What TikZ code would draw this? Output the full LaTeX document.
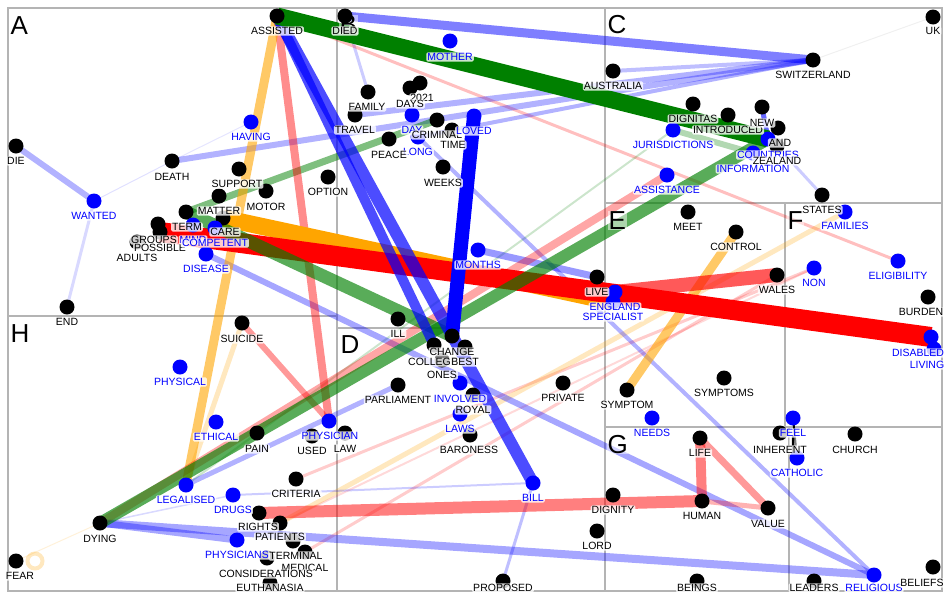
\documentclass[tikz,border=0pt]{standalone}
\usepackage{fontspec}
\setmainfont{Liberation Sans}
\pgfdeclarelayer{grid}
\pgfdeclarelayer{edges}
\pgfdeclarelayer{letters}
\pgfdeclarelayer{labels}
\pgfsetlayers{grid,edges,letters,main,labels}
\definecolor{cg}{RGB}{0,128,0}
\definecolor{cr}{RGB}{255,0,0}
\definecolor{cb}{RGB}{0,0,255}
\definecolor{co}{RGB}{255,165,0}
\definecolor{cgrid}{RGB}{180,180,180}
\tikzset{
 kdot/.style={circle, fill=black, minimum size=15pt, inner sep=0pt},
 bdot/.style={circle, fill=cb, minimum size=15pt, inner sep=0pt},
 lab/.style={font=\fontsize{10.5}{12}\selectfont, fill=white, fill opacity=0.8, text opacity=1, inner sep=1pt, rounded corners=1.5pt},
 klab/.style={lab, text=black},
 blab/.style={lab, text=cb},
 lett/.style={font=\fontsize{26}{28}\selectfont, anchor=base west, inner sep=0.5pt, fill=white, fill opacity=0.5, text opacity=1},
 region/.style={draw=cgrid, line width=2pt},
 eg/.style={draw=cg}, er/.style={draw=cr}, eb/.style={draw=cb}, eo/.style={draw=co}, ek/.style={draw=black},
}
\newcommand{\wn}[7]{\node[#2dot] (#1) at (#3,#4) {};
 \begin{pgfonlayer}{labels}\node[#2lab] (#1-t) at (#5,#6) {#7};\end{pgfonlayer}}
\newcommand{\lnk}[5]{\draw[#1, line width=#2pt, draw opacity=#3] (#4.center) -- (#5.center);}
\begin{document}
\begin{tikzpicture}[x=1pt,y=-1pt]
\useasboundingbox (0,0) rectangle (950,600);
\begin{pgfonlayer}{grid}
\fill[white] (0,0) rectangle (950,600);
\draw[region] (8,8) rectangle (942,591);
\draw[region] (337,8) -- (337,591);
\draw[region] (605,8) -- (605,591);
\draw[region] (8,316) -- (337,316);
\draw[region] (337,328) -- (605,328);
\draw[region] (605,203) -- (942,203);
\draw[region] (605,427) -- (942,427);
\draw[region] (785,203) -- (785,427);
\draw[region] (789,427) -- (789,591);
\end{pgfonlayer}
\begin{pgfonlayer}{letters}
\node[lett] (LA) at (10,34) {A};
\node[lett] (LB) at (339,33) {B};
\node[lett] (LC) at (607,33) {C};
\node[lett] (LD) at (340,353) {D};
\node[lett] (LE) at (608,229) {E};
\node[lett] (LF) at (787,229) {F};
\node[lett] (LG) at (607,453) {G};
\node[lett] (LH) at (10,342) {H};
\node[lett] (LI) at (789,453) {I};
\end{pgfonlayer}
% region A
\wn{DIE}{k}{16}{146}{16}{161}{DIE}
\wn{WANTED}{b}{94}{201}{94}{216}{WANTED}
\wn{DEATH}{k}{172}{161}{172}{177}{DEATH}
\wn{HAVING}{b}{251}{122}{251}{137}{HAVING}
\wn{SUPPORT}{k}{239}{169}{237}{184}{SUPPORT}
\wn{MOTOR}{k}{266}{191}{266}{207}{MOTOR}
\wn{MATTER}{k}{219}{196}{219}{211}{MATTER}
\wn{TERM}{k}{186}{212}{187}{227}{TERM}
\wn{CARE}{k}{223}{218}{225}{232}{CARE}
\wn{ADULTS}{k}{137}{242}{137}{258}{ADULTS}
\wn{GROUPS}{k}{158}{224}{154}{240}{GROUPS}
\wn{POSSIBLE}{k}{160}{232}{160}{248}{POSSIBLE}
\wn{MIND}{b}{193}{225}{193}{240}{MIND}
\wn{COMPETENT}{b}{215}{228}{215}{243}{COMPETENT}
\wn{DISEASE}{b}{206}{254}{206}{269}{DISEASE}
\wn{END}{k}{67}{307}{67}{322}{END}
% region B
\wn{ASSISTED}{k}{277}{16}{277}{31}{ASSISTED}
\wn{DIED}{k}{345}{16}{345}{31}{DIED}
\wn{MOTHER}{b}{450}{41}{450}{57}{MOTHER}
\wn{FAMILY}{k}{368}{92}{367}{107}{FAMILY}
\wn{YEAR}{k}{420}{83}{422}{98}{2021}
\wn{DAYS}{k}{410}{88}{410}{104}{DAYS}
\wn{TRAVEL}{k}{355}{115}{355}{130}{TRAVEL}
\wn{DAY}{b}{412}{115}{412}{130}{DAY}
\wn{CRIMINAL}{k}{437}{120}{437}{135}{CRIMINAL}
\wn{LONG}{b}{418}{137}{418}{152}{LONG}
\wn{TIME}{k}{452}{130}{453}{145}{TIME}
\wn{LOVED}{b}{474}{116}{474}{131}{LOVED}
\wn{PEACE}{k}{389}{139}{389}{155}{PEACE}
\wn{WEEKS}{k}{443}{167}{443}{183}{WEEKS}
\wn{OPTION}{k}{328}{177}{328}{192}{OPTION}
\wn{MONTHS}{b}{478}{250}{478}{265}{MONTHS}
% region C
\wn{AUSTRALIA}{k}{613}{71}{613}{86}{AUSTRALIA}
\wn{SWITZERLAND}{k}{813}{60}{813}{75}{SWITZERLAND}
\wn{UK}{k}{933}{17}{933}{31}{UK}
\wn{DIGNITAS}{k}{693}{104}{693}{119}{DIGNITAS}
\wn{INTRODUCED}{k}{728}{115}{728}{130}{INTRODUCED}
\wn{JURISDICTIONS}{b}{673}{130}{673}{145}{JURISDICTIONS}
\wn{NEW}{k}{762}{107}{762}{123}{NEW}
\wn{AND}{k}{778}{128}{780}{143}{AND}
\wn{COUNTRIES}{b}{768}{139}{768}{155}{COUNTRIES}
\wn{ZEALAND}{k}{777}{146}{777}{161}{ZEALAND}
\wn{INFORMATION}{b}{753}{153}{753}{169}{INFORMATION}
\wn{ASSISTANCE}{b}{667}{175}{667}{190}{ASSISTANCE}
\wn{STATES}{k}{822}{195}{822}{210}{STATES}
% region E
\wn{MEET}{k}{688}{212}{688}{227}{MEET}
\wn{CONTROL}{k}{736}{232}{736}{247}{CONTROL}
\wn{WALES}{k}{777}{275}{777}{290}{WALES}
\wn{LIVE}{k}{597}{277}{597}{292}{LIVE}
\wn{ENGLAND}{b}{615}{292}{615}{307}{ENGLAND}
\wn{SPECIALIST}{b}{613}{302}{613}{317}{SPECIALIST}
\wn{SYMPTOMS}{k}{724}{378}{724}{393}{SYMPTOMS}
\wn{SYMPTOM}{k}{627}{390}{627}{405}{SYMPTOM}
% region F
\wn{FAMILIES}{b}{845}{212}{845}{226}{FAMILIES}
\wn{NON}{b}{814}{268}{814}{283}{NON}
\wn{ELIGIBILITY}{b}{898}{261}{898}{276}{ELIGIBILITY}
\wn{BURDEN}{k}{928}{297}{921}{312}{BURDEN}
\wn{DISABLED}{b}{931}{337}{918}{353}{DISABLED}
\wn{LIVING}{b}{934}{349}{927}{365}{LIVING}
% region D
\wn{ILL}{k}{398}{319}{398}{334}{ILL}
\wn{CHANGE}{k}{452}{336}{452}{352}{CHANGE}
\wn{COLLEGE}{k}{434}{345}{433}{362}{COLLEGE}
\wn{BEST}{k}{465}{347}{465}{362}{BEST}
\wn{ONES}{k}{442}{360}{442}{375}{ONES}
\wn{PARLIAMENT}{k}{398}{385}{398}{400}{PARLIAMENT}
\wn{INVOLVED}{b}{460}{383}{460}{399}{INVOLVED}
\wn{ROYAL}{k}{473}{395}{473}{410}{ROYAL}
\wn{LAWS}{b}{460}{414}{460}{429}{LAWS}
\wn{BARONESS}{k}{470}{435}{469}{450}{BARONESS}
\wn{PRIVATE}{k}{563}{383}{563}{398}{PRIVATE}
\wn{BILL}{b}{533}{483}{533}{498}{BILL}
\wn{LORD}{k}{597}{531}{597}{546}{LORD}
\wn{DIGNITY}{k}{613}{495}{613}{510}{DIGNITY}
\wn{PROPOSED}{k}{503}{581}{503}{588}{PROPOSED}
% region H
\wn{SUICIDE}{k}{242}{323}{242}{339}{SUICIDE}
\wn{PHYSICAL}{b}{180}{367}{180}{382}{PHYSICAL}
\wn{ETHICAL}{b}{216}{422}{216}{437}{ETHICAL}
\wn{PAIN}{k}{257}{433}{257}{449}{PAIN}
\wn{PHYSICIAN}{b}{329}{421}{330}{436}{PHYSICIAN}
\wn{USED}{k}{312}{436}{312}{451}{USED}
\wn{LAW}{k}{345}{433}{345}{449}{LAW}
\wn{CRITERIA}{k}{296}{479}{296}{494}{CRITERIA}
\wn{LEGALISED}{b}{186}{485}{186}{500}{LEGALISED}
\wn{DRUGS}{b}{233}{495}{233}{510}{DRUGS}
\wn{RIGHTS}{k}{259}{513}{258}{527}{RIGHTS}
\wn{PATIENTS}{k}{280}{523}{280}{537}{PATIENTS}
\wn{DYING}{k}{100}{523}{100}{539}{DYING}
\wn{PHYSICIANS}{b}{237}{540}{237}{555}{PHYSICIANS}
\wn{TERMINAL}{k}{293}{541}{296}{556}{TERMINAL}
\wn{MEDICAL}{k}{305}{552}{305}{568}{MEDICAL}
\wn{CONSIDERATIONS}{k}{267}{558}{266}{574}{CONSIDERATIONS}
\wn{EUTHANASIA}{k}{270}{583}{270}{588}{EUTHANASIA}
\wn{FEAR}{k}{16}{561}{20}{576}{FEAR}
% region G
\wn{NEEDS}{b}{652}{418}{652}{433}{NEEDS}
\wn{LIFE}{k}{700}{438}{700}{453}{LIFE}
\wn{HUMAN}{k}{702}{501}{702}{516}{HUMAN}
\wn{VALUE}{k}{768}{508}{768}{524}{VALUE}
\wn{BEINGS}{k}{697}{581}{697}{588}{BEINGS}
% region I
\wn{INHERENT}{k}{780}{433}{780}{450}{INHERENT}
\wn{FEEL}{b}{793}{418}{793}{433}{FEEL}
\wn{CATHOLIC}{b}{797}{458}{797}{473}{CATHOLIC}
\wn{CHURCH}{k}{855}{434}{855}{450}{CHURCH}
\wn{LEADERS}{k}{814}{581}{814}{588}{LEADERS}
\wn{RELIGIOUS}{b}{874}{575}{874}{588}{RELIGIOUS}
\wn{BELIEFS}{k}{933}{567}{922}{583}{BELIEFS}
\begin{pgfonlayer}{edges}
\lnk{eb}{1}{.12}{WANTED}{DEATH}
\lnk{eb}{3}{.15}{WANTED}{END}
\lnk{eb}{6}{.3}{DIE}{WANTED}
\lnk{eb}{1}{.1}{DEATH}{HAVING}
\lnk{eo}{1}{.15}{FEAR}{DYING}
\draw[eo, line width=4pt, draw opacity=.25] ([xshift=19pt]FEAR.center) circle (7.5);
\lnk{ek}{1}{.06}{SWITZERLAND}{UK}
\lnk{eb}{3}{.2}{DIED}{FAMILY}
\lnk{eb}{3}{.2}{ZEALAND}{STATES}
\lnk{er}{3}{.25}{ASSISTED}{ELIGIBILITY}
\lnk{er}{3}{.2}{CRITERIA}{NON}
\lnk{er}{3}{.2}{MEDICAL}{WALES}
\lnk{er}{2}{.15}{PATIENTS}{NON}
\lnk{eg}{2}{.2}{LEGALISED}{JURISDICTIONS}
\lnk{eg}{6}{.3}{JURISDICTIONS}{INFORMATION}
\lnk{eo}{5}{.25}{SUICIDE}{LEGALISED}
\lnk{eo}{5}{.25}{PATIENTS}{FAMILIES}
\lnk{eb}{2}{.2}{DRUGS}{BILL}
\lnk{eb}{3}{.25}{BILL}{PROPOSED}
\lnk{eb}{1.5}{.15}{DYING}{DRUGS}
\lnk{eb}{5}{.3}{LEGALISED}{PARLIAMENT}
\lnk{eb}{4}{.3}{LONG}{RELIGIOUS}
\lnk{eb}{6}{.35}{DISEASE}{RELIGIOUS}
\lnk{eb}{8}{.35}{DYING}{RELIGIOUS}
\lnk{eb}{7}{.35}{DYING}{PHYSICIANS}
\lnk{eb}{6}{.3}{DEATH}{SWITZERLAND}
\lnk{eb}{6}{.3}{TRAVEL}{SWITZERLAND}
\lnk{eb}{4}{.25}{AUSTRALIA}{SWITZERLAND}
\lnk{eb}{4}{.3}{LONG}{SWITZERLAND}
\lnk{eb}{9}{.5}{DIED}{SWITZERLAND}
\lnk{eb}{7}{.4}{MONTHS}{LIVE}
\lnk{eb}{5}{.6}{NEW}{COUNTRIES}
\lnk{eg}{7}{.5}{TERM}{CRIMINAL}
\lnk{er}{6}{.4}{SUICIDE}{PHYSICIAN}
\lnk{er}{8}{.45}{ASSISTED}{PHYSICIAN}
\lnk{er}{5}{.3}{HUMAN}{VALUE}
\lnk{er}{7}{.4}{LIFE}{VALUE}
\lnk{er}{10}{.5}{HUMAN}{LIFE}
\lnk{er}{12}{.5}{RIGHTS}{HUMAN}
\lnk{eo}{9}{.6}{SYMPTOM}{CONTROL}
\lnk{eo}{9}{.6}{ASSISTED}{LEGALISED}
\lnk{eo}{17}{1}{CARE}{SPECIALIST}
\lnk{er}{20}{1}{POSSIBLE}{DISABLED}
\lnk{er}{14}{.65}{ENGLAND}{WALES}
\lnk{er}{8}{.35}{DYING}{ASSISTANCE}
\lnk{eg}{13}{.65}{TERM}{CHANGE}
\lnk{eg}{12}{.65}{DYING}{COUNTRIES}
\lnk{eb}{10}{.7}{ASSISTED}{COLLEGE}
\lnk{eb}{12}{.7}{ASSISTED}{BILL}
\lnk{eb}{14}{1}{LOVED}{CHANGE}
\lnk{eg}{17}{1}{ASSISTED}{COUNTRIES}
\lnk{ek}{2}{1}{FEEL}{CATHOLIC}
\end{pgfonlayer}
\end{tikzpicture}
\end{document}
